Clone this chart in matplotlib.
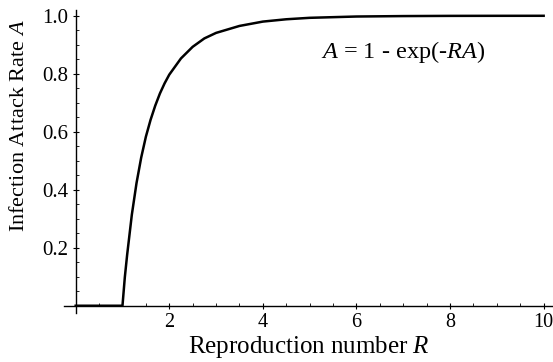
import matplotlib.pyplot as plt
from matplotlib.ticker import MultipleLocator

plt.rcParams['font.family'] = ['Liberation Serif', 'DejaVu Serif']
plt.rcParams['mathtext.fontset'] = 'custom'
plt.rcParams['mathtext.rm'] = 'Liberation Serif'
plt.rcParams['mathtext.it'] = 'Liberation Serif:italic'

# values
R = [0, 1.0, 1.05, 1.1, 1.2, 1.3, 1.4, 1.5, 1.6, 1.7, 1.8, 1.9, 2.0, 2.25, 2.5,
     2.75, 3.0, 3.5, 4.0, 4.5, 5.0, 6.0, 7.0, 8.0, 9.0, 10.0]
A = [0, 0, 0.098, 0.176, 0.314, 0.423, 0.511, 0.583, 0.641, 0.690, 0.732, 0.767,
     0.797, 0.853, 0.893, 0.922, 0.941, 0.965, 0.980, 0.988, 0.993, 0.9975,
     0.999, 0.9997, 0.9999, 1.0]
xticks = [2, 4, 6, 8, 10]
yticks = [0.2, 0.4, 0.6, 0.8, 1.0]

fig = plt.figure(figsize=(5.53, 3.62), dpi=100)
ax = fig.add_axes([0.1157, 0.1354, 0.8843, 0.837])

ax.plot(R, A, color='black', lw=1.8, solid_joinstyle='round')

ax.set_xlim(-0.25, 10.2)
ax.set_ylim(-0.025, 1.02)
ax.spines['left'].set_position(('data', 0))
ax.spines['bottom'].set_position(('data', 0))
ax.spines['top'].set_visible(False)
ax.spines['right'].set_visible(False)
for s in ('left', 'bottom'):
    ax.spines[s].set_linewidth(1.0)

ax.set_xticks(xticks)
ax.set_yticks(yticks)
ax.set_yticklabels(['%.1f' % v for v in yticks])
ax.xaxis.set_minor_locator(MultipleLocator(0.5))
ax.yaxis.set_minor_locator(MultipleLocator(0.05))
ax.tick_params(which='major', direction='inout', length=5, width=0.8,
               labelsize=15, pad=3)
ax.tick_params(which='minor', direction='in', length=2.5, width=0.6)
ax.tick_params(axis='x', labelsize=14.5, pad=3)

ax.set_xlabel('Reproduction number $\\mathit{R}$', fontsize=18)
ax.set_ylabel('Infection Attack Rate $\\mathit{A}$', fontsize=16)
ax.yaxis.set_label_coords(-0.072, 0.62)
ax.xaxis.set_label_coords(0.5, -0.068)

ax.text(7.0, 0.875, '$\\mathit{A}$ = 1 - exp(-$\\mathit{RA}$)', fontsize=17.5,
        ha='center', va='center')

fig.savefig('out.png', dpi=100)
